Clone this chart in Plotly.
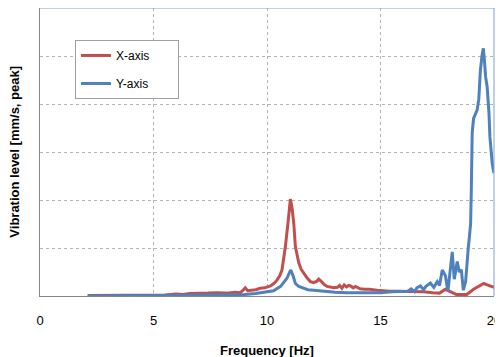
import plotly.graph_objects as go

x_freq = [2.1, 3.0, 4.0, 5.0, 5.5, 6.0, 6.3, 6.6, 7.0, 7.4, 7.8, 8.2, 8.6, 8.82, 8.95, 9.04, 9.15, 9.3, 9.5,
          9.7, 9.9, 10.15, 10.3, 10.44, 10.56, 10.66, 10.81, 10.92, 11.03, 11.1, 11.18, 11.25, 11.4, 11.5, 11.62,
          11.76, 11.91, 12.05, 12.2, 12.28, 12.4, 12.52, 12.65, 12.8, 12.94, 13.1, 13.2, 13.3, 13.4, 13.5,
          13.6, 13.68, 13.8, 13.9, 14.1, 14.3, 14.5, 14.85, 15.1, 15.4, 15.8, 16.2, 16.9, 17.3, 17.6, 17.86,
          18.1, 18.35, 18.6, 18.8, 19.1, 19.3, 19.55, 19.7, 19.85, 20.0]
x_vals = [0.01, 0.01, 0.01, 0.02, 0.02, 0.04, 0.03, 0.05, 0.05, 0.06, 0.07, 0.06, 0.08, 0.07, 0.12, 0.17,
          0.11, 0.12, 0.13, 0.16, 0.17, 0.21, 0.26, 0.33, 0.42, 0.54, 1.03, 1.5, 2.02, 1.85, 1.51, 1.03, 0.69,
          0.56, 0.47, 0.38, 0.3, 0.28, 0.31, 0.35, 0.3, 0.24, 0.2, 0.19, 0.17, 0.18, 0.22, 0.16, 0.23, 0.19,
          0.22, 0.21, 0.17, 0.2, 0.15, 0.14, 0.14, 0.12, 0.11, 0.1, 0.1, 0.1, 0.09, 0.07, 0.06, 0.14, 0.08,
          0.03, 0.03, 0.03, 0.14, 0.2, 0.26, 0.23, 0.2, 0.18]

y_freq = [2.1, 4.0, 6.0, 7.0, 8.0, 8.5, 9.0, 9.5, 10.0, 10.29, 10.6, 10.88, 11.0, 11.05, 11.15, 11.25, 11.4,
          11.6, 11.8, 12.06, 12.3, 12.6, 13.0, 13.5, 14.0, 14.5, 15.0, 15.5, 16.0, 16.2, 16.35, 16.5, 16.6,
          16.76, 16.9, 17.0, 17.2, 17.35, 17.5, 17.6, 17.72, 17.86, 17.97, 18.05, 18.16, 18.25, 18.38, 18.47,
          18.56, 18.65, 18.75, 18.86, 18.92, 18.97, 19.0, 19.04, 19.1, 19.2, 19.26, 19.33, 19.4, 19.47, 19.53,
          19.58, 19.63, 19.7, 19.73, 19.78, 19.82, 19.88, 19.92, 19.96, 20.0]
y_vals = [0.0, 0.0, 0.01, 0.02, 0.02, 0.03, 0.03, 0.05, 0.08, 0.11, 0.2, 0.37, 0.5, 0.54, 0.42, 0.26, 0.2,
          0.16, 0.13, 0.12, 0.11, 0.09, 0.08, 0.07, 0.07, 0.06, 0.07, 0.09, 0.1, 0.1, 0.15, 0.09, 0.17, 0.21,
          0.13, 0.2, 0.27, 0.18, 0.3, 0.22, 0.54, 0.42, 0.1, 0.45, 0.92, 0.35, 0.72, 0.5, 0.55, 0.12, 0.3,
          0.96, 1.2, 1.5, 2.2, 3.4, 3.7, 3.8, 3.88, 4.1, 4.7, 5.0, 5.16, 4.9, 4.57, 4.35, 4.2, 3.8, 3.32, 2.9,
          2.77, 2.65, 2.56]

x_ticks = [0, 5, 10, 15, 20]
pad = "\u00a0" * 7

fig = go.Figure()
fig.add_trace(go.Scatter(x=x_freq, y=x_vals, mode="lines", name="X-axis" + pad, legendgroup="a",
                         line=dict(color="#C0504D", width=3)))
fig.add_trace(go.Scatter(x=y_freq, y=y_vals, mode="lines", name="Y-axis" + pad, legendgroup="b",
                         line=dict(color="#4F81BD", width=3)))

# page body has an 8px margin, so the figure is shrunk by 8px and margins shifted
fig.update_layout(
    width=495, height=349,
    margin=dict(l=32, r=9, t=0, b=61, autoexpand=False),
    paper_bgcolor="white", plot_bgcolor="white",
    font=dict(family="Liberation Sans, Arial, sans-serif", color="black"),
    showlegend=True,
    legend=dict(x=0.077, y=0.889, xanchor="left", yanchor="top",
                bordercolor="#A0A0A0", borderwidth=1, bgcolor="white",
                font=dict(size=12), tracegroupgap=9),
    xaxis=dict(range=[0, 20], tickvals=x_ticks, ticktext=[str(t) for t in x_ticks],
               showgrid=True, gridcolor="#B4B4B4", griddash="dot", gridwidth=1,
               zeroline=False, showline=True, linecolor="#868686", linewidth=1,
               ticks="", tickfont=dict(size=13), ticklabelstandoff=12),
    yaxis=dict(range=[0, 6], dtick=1, showticklabels=False,
               showgrid=True, gridcolor="#B4B4B4", griddash="dot", gridwidth=1,
               zeroline=False, showline=True, linecolor="#868686", linewidth=1, ticks=""),
    annotations=[
        dict(text="<b>Frequency [Hz]</b>", x=0.5, y=-0.155, xref="paper", yref="paper",
             xanchor="center", yanchor="top", showarrow=False, font=dict(size=13)),
        dict(text="<b>Vibration level [mm/s, peak]</b>", x=-0.058, y=0.5, xref="paper", yref="paper",
             xanchor="center", yanchor="middle", showarrow=False, textangle=-90, font=dict(size=13)),
    ],
    shapes=[
        dict(type="line", xref="paper", yref="paper", x0=0, x1=1, y0=1, y1=1,
             line=dict(color="#7FA0D0", width=1)),
        dict(type="line", xref="paper", yref="paper", x0=1, x1=1, y0=0, y1=1,
             line=dict(color="#7FA0D0", width=1)),
    ],
)

fig.write_html("out.html")
